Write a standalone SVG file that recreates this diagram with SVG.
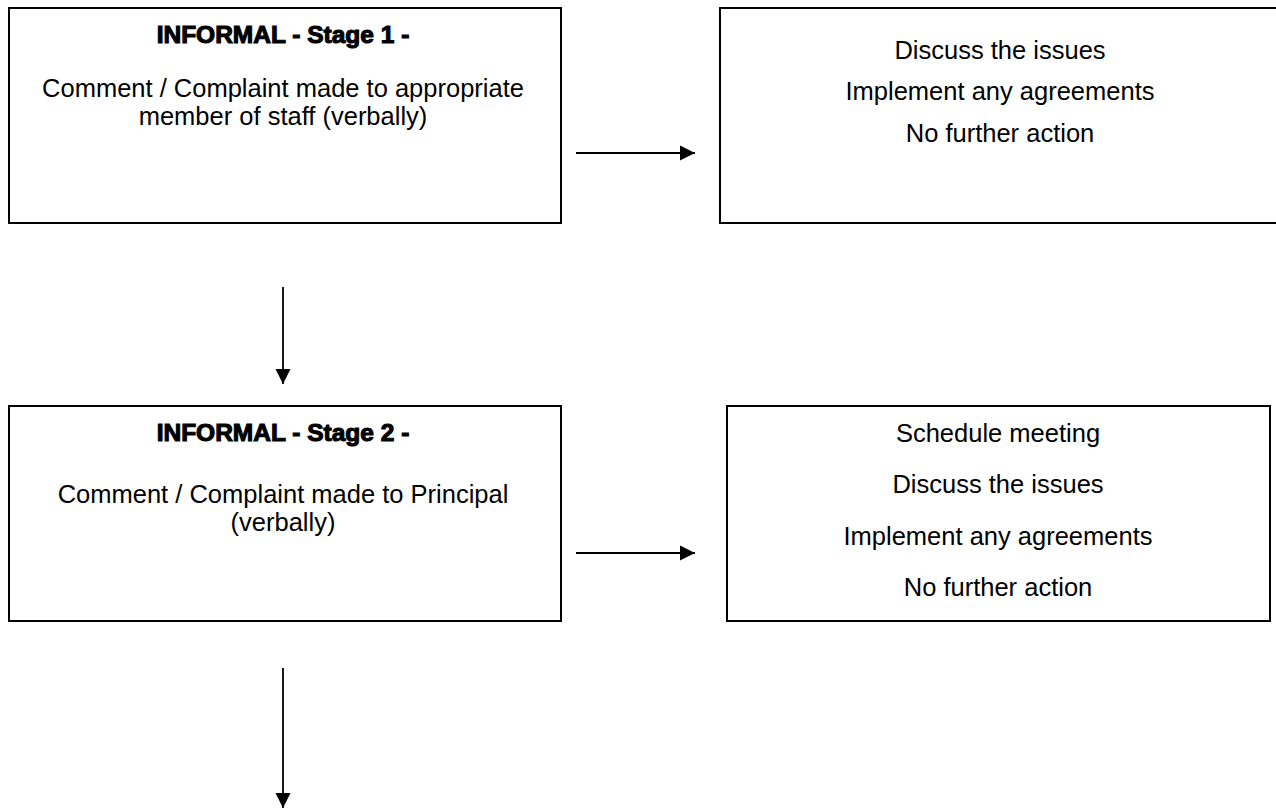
<svg xmlns="http://www.w3.org/2000/svg" width="1276" height="811" viewBox="0 0 1276 811">
<defs>
<style>
.box{fill:#fff;stroke:#000;stroke-width:2}
.title{font-family:"Liberation Sans",Arial,sans-serif;font-weight:bold;font-size:24.5px;text-anchor:middle;fill:#000;stroke:#000;stroke-width:1.1}
.body{font-family:"Liberation Sans",Arial,sans-serif;font-size:25.5px;text-anchor:middle;fill:#000}
.conn{stroke:#000;stroke-width:1.8;fill:none}
</style>
<marker id="ah" markerWidth="16" markerHeight="16" refX="15" refY="8" orient="auto" markerUnits="userSpaceOnUse">
<path d="M0,0.5 L15,8 L0,15.5 Z" fill="#000"/>
</marker>
</defs>
<rect width="1276" height="811" fill="#fff"/>
<g id="stage1">
<rect class="box" x="9" y="8" width="552" height="215"/>
<text class="title" x="283" y="43">INFORMAL - Stage 1 -</text>
<text class="body" x="283" y="97">Comment / Complaint made to appropriate</text>
<text class="body" x="283" y="125">member of staff (verbally)</text>
</g>
<g id="outcome1">
<rect class="box" x="720" y="8" width="562" height="215"/>
<text class="body" x="1000" y="59">Discuss the issues</text>
<text class="body" x="1000" y="100">Implement any agreements</text>
<text class="body" x="1000" y="142">No further action</text>
</g>
<g id="stage2">
<rect class="box" x="9" y="406" width="552" height="215"/>
<text class="title" x="283" y="441">INFORMAL - Stage 2 -</text>
<text class="body" x="283" y="503">Comment / Complaint made to Principal</text>
<text class="body" x="283" y="531">(verbally)</text>
</g>
<g id="outcome2">
<rect class="box" x="727" y="406" width="543" height="215"/>
<text class="body" x="998" y="442">Schedule meeting</text>
<text class="body" x="998" y="493">Discuss the issues</text>
<text class="body" x="998" y="545">Implement any agreements</text>
<text class="body" x="998" y="596">No further action</text>
</g>
<g id="connectors">
<line class="conn" x1="576" y1="153" x2="695" y2="153" marker-end="url(#ah)"/>
<line class="conn" x1="576" y1="553" x2="695" y2="553" marker-end="url(#ah)"/>
<line class="conn" x1="283" y1="287" x2="283" y2="384" marker-end="url(#ah)"/>
<line class="conn" x1="283" y1="668" x2="283" y2="808" marker-end="url(#ah)"/>
</g>
</svg>
